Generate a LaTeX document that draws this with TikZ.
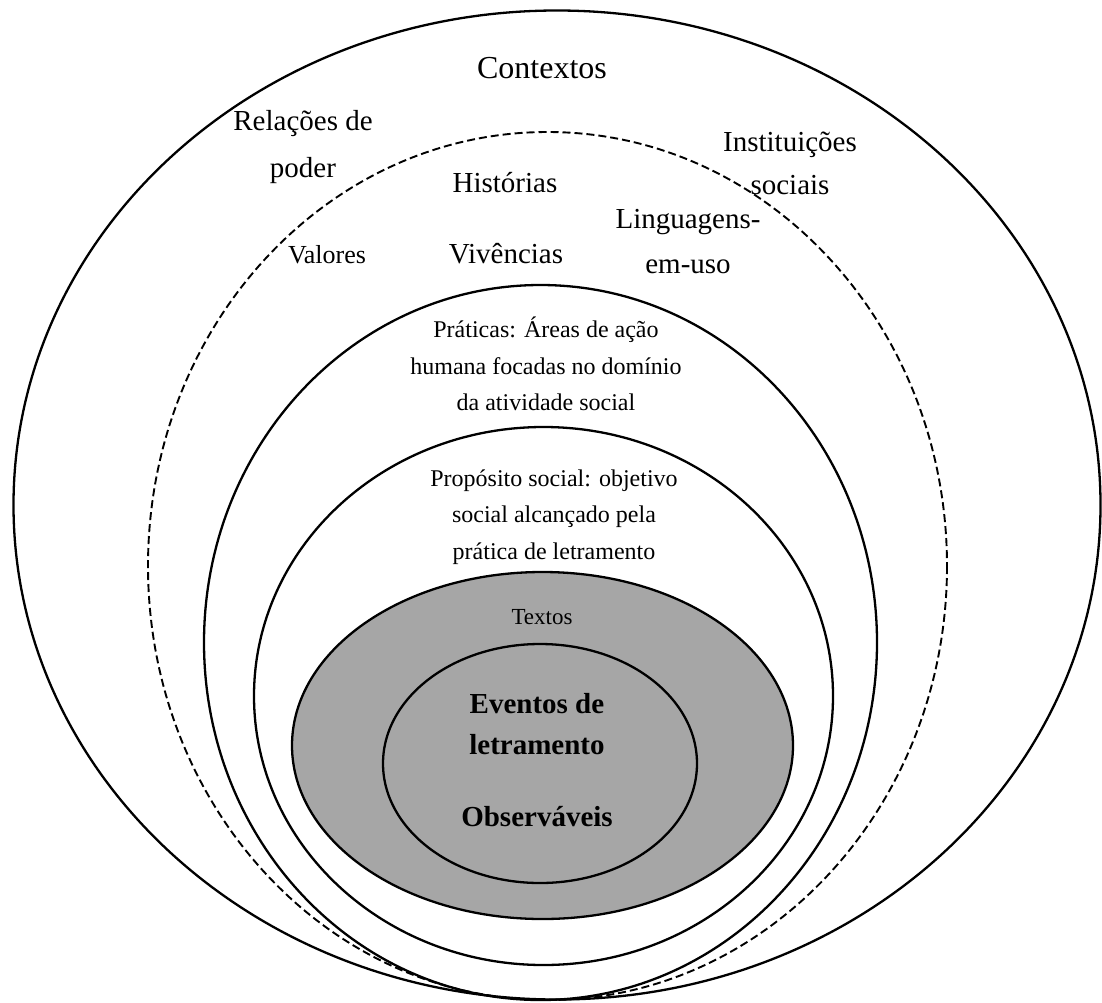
\documentclass[tikz,border=0pt]{standalone}
\usepackage{fontspec}
\setmainfont{Liberation Serif}
\definecolor{ringgray}{RGB}{166,166,166}
\begin{document}
\begin{tikzpicture}[x=1pt,y=-1pt,
  ring/.style={line width=2.3pt},
  dashring/.style={line width=1.9pt, dash pattern=on 8pt off 4pt},
  big/.style={inner sep=0pt, align=center, font=\fontsize{29}{45}\selectfont},
  small/.style={inner sep=0pt, align=center, font=\fontsize{24}{36.5}\selectfont},
  core/.style={inner sep=0pt, align=center, font=\fontsize{29}{41}\selectfont\bfseries}]
\useasboundingbox (0,0) rectangle (1102,1002);
% rings
\draw[ring] (557,505) ellipse [x radius=543.5, y radius=494.5];
\draw[dashring] (547.5,566) ellipse [x radius=399.5, y radius=434];
\draw[ring] (540.5,642.5) ellipse [x radius=336.5, y radius=357.5];
\draw[ring] (543.5,696) ellipse [x radius=289.5, y radius=269];
\draw[ring, fill=ringgray] (542.5,745.5) ellipse [x radius=250.5, y radius=173.5];
\draw[ring] (540,763.5) ellipse [x radius=157, y radius=119.5];
% labels
\node[big, font=\fontsize{32}{38}\selectfont] (ctx) at (542,68) {Contextos};
\node[big, font=\fontsize{29}{47}\selectfont] (rel) at (303,147) {Relações de\\poder};
\node[big, font=\fontsize{29}{43}\selectfont] (inst) at (790,163) {Instituições\\sociais};
\node[big] (hist) at (505,183) {Histórias};
\node[big, font=\fontsize{26}{30}\selectfont] (val) at (327,255) {Valores};
\node[big] (viv) at (506,254) {Vivências};
\node[big] (ling) at (688,242) {Linguagens-\\em-uso};
\node[small] (prat) at (546,364) {Práticas: Áreas de ação\\humana focadas no domínio\\da atividade social};
\node[small] (prop) at (554,517) {Propósito social: objetivo\\social alcançado pela\\prática de letramento};
\node[small, font=\fontsize{23}{28}\selectfont] (txt) at (542,617) {Textos};
\node[core] (evt) at (537,724) {Eventos de\\letramento};
\node[core] (obs) at (537,817) {Observáveis};
\end{tikzpicture}
\end{document}
